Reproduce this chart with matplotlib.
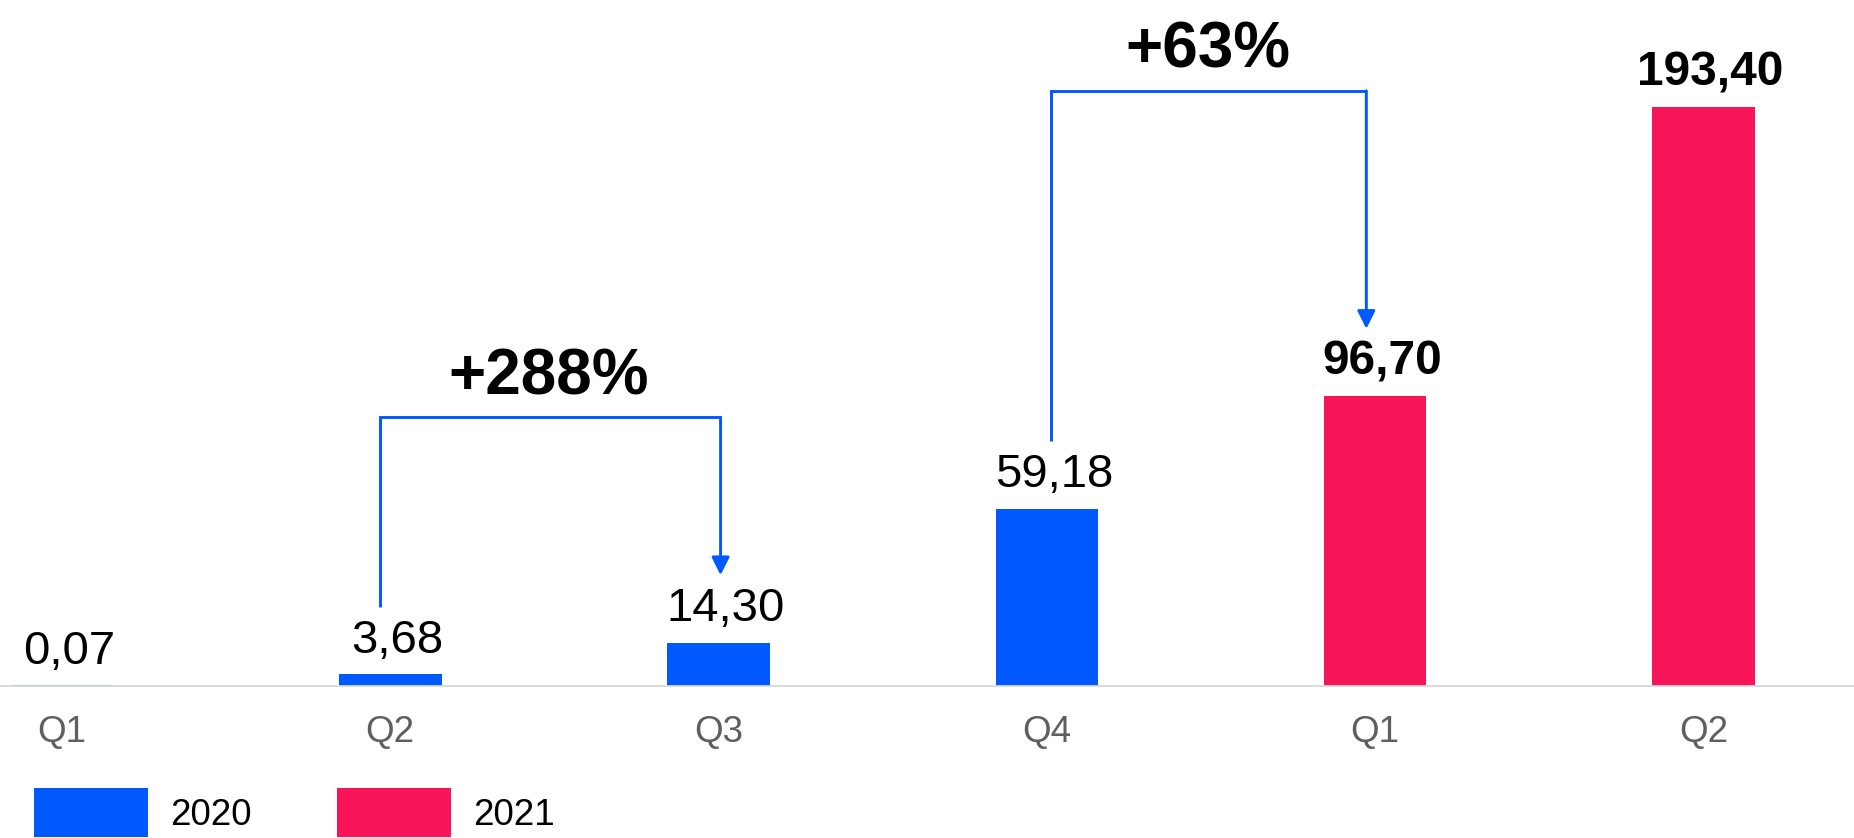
import numpy as np
import matplotlib
matplotlib.use("Agg")
import matplotlib.pyplot as plt
from matplotlib.patches import Patch

# ---- data ----
categories = ["Q1", "Q2", "Q3", "Q4", "Q1", "Q2"]
years = ["2020", "2020", "2020", "2020", "2021", "2021"]
values = [0.07, 3.68, 14.30, 59.18, 96.70, 193.40]
value_labels = ["0,07", "3,68", "14,30", "59,18", "96,70", "193,40"]
legend_years = ["2020", "2021"]
growth_from = [1, 3]
growth_to = [2, 4]
growth_labels = ["+288%", "+63%"]

# ---- style ----
plt.rcParams['font.family'] = ['Liberation Sans', 'DejaVu Sans']
year_colors = {"2020": "#0059FF", "2021": "#F81458"}
bar_colors = [year_colors[y] for y in years]

W, H, DPI = 1854, 838, 100
fig = plt.figure(figsize=(W / DPI, H / DPI), dpi=DPI)
base_px = 685.5          # baseline from top (px)
step_px = 328.3          # category spacing (px)
first_px = 62.0          # first category centre (px)
unit_px = 2.99           # px per value unit

ax = fig.add_axes([0, (H - base_px) / H, 1, base_px / H])
x = np.arange(len(values))
ax.bar(x, values, width=0.3125, color=bar_colors, zorder=2)
ax.set_xlim(-first_px / step_px, (W - first_px) / step_px)
ax.set_ylim(0, base_px / unit_px)

for s in ["top", "left", "right"]:
    ax.spines[s].set_visible(False)
ax.spines["bottom"].set_color("#d9d9d9")
ax.spines["bottom"].set_linewidth(1.3)
ax.set_yticks([])
ax.set_xticks(x)
ax.set_xticklabels(categories)
ax.tick_params(axis="x", length=0, pad=21, labelsize=26.5, labelcolor="#5f5f5f")

# value labels
for i, (v, lab, y) in enumerate(zip(values, value_labels, years)):
    bold = y == "2021"
    ax.annotate(lab, xy=(i, v), xytext=(5, 15.5), textcoords="offset points",
                ha="center", va="baseline", fontsize=34.5 if bold else 34,
                color="black", fontweight="bold" if bold else "normal")

# growth brackets
bracket_tops = [89.7, 198.9]
x_shift = [(-0.031, 0.006), (0.014, -0.027)]
lift = 22.6
line_col = "#0059FF"
for k, (a, b, lab) in enumerate(zip(growth_from, growth_to, growth_labels)):
    xa = a + x_shift[k][0]
    xb = b + x_shift[k][1]
    top = bracket_tops[k]
    ax.plot([xa, xa, xb], [values[a] + lift, top, top], color=line_col,
            lw=2.1, solid_joinstyle="miter", solid_capstyle="butt", zorder=3)
    ax.annotate("", xy=(xb, values[b] + lift), xytext=(xb, top),
                arrowprops=dict(arrowstyle="-|>,head_length=10.8,head_width=5.4",
                                mutation_scale=1, color=line_col, lw=2.1,
                                shrinkA=0, shrinkB=0), zorder=3)
    ax.annotate(lab, xy=((xa + xb) / 2, top), xytext=(-1, 16.5),
                textcoords="offset points", ha="center", va="baseline",
                fontsize=46, fontweight="bold", color="black")

# legend
handles = [Patch(facecolor=year_colors[y], edgecolor="none") for y in legend_years]
fig.legend(handles, legend_years, loc="upper left",
           bbox_to_anchor=(34.4 / W, (H - 788.3) / H), ncol=2, frameon=False,
           fontsize=26.5, handlelength=3.1, handleheight=1.66, handletextpad=0.6,
           columnspacing=2.3, borderaxespad=0, borderpad=0)

fig.savefig("out.png", dpi=DPI)
